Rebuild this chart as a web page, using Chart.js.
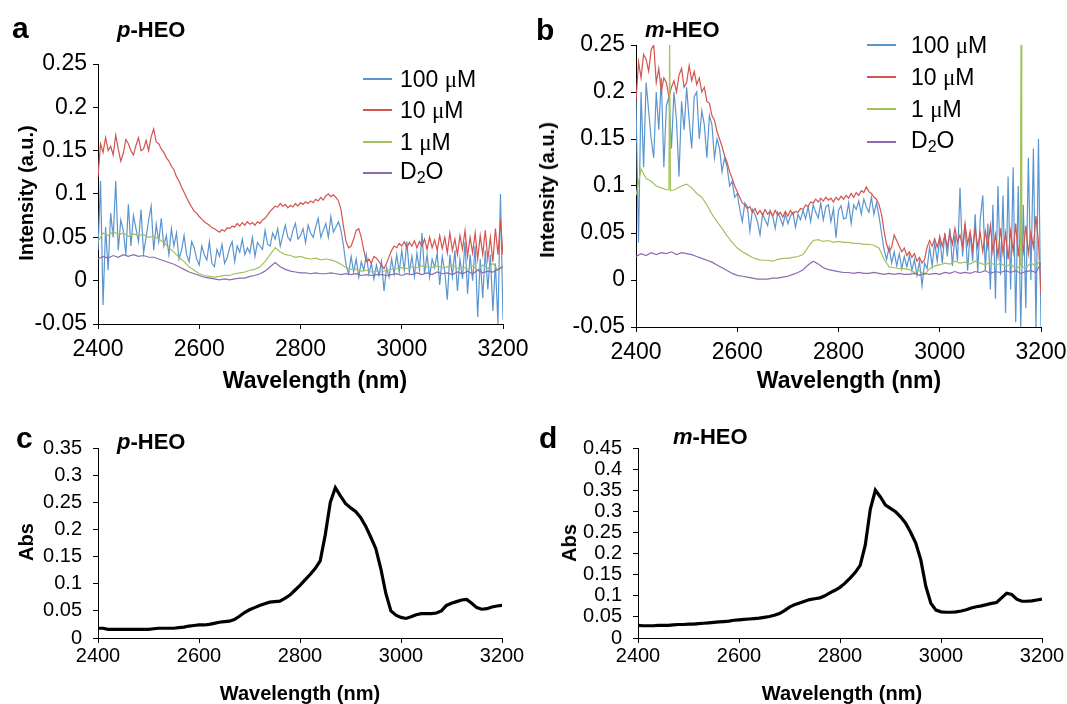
<!DOCTYPE html>
<html>
<head>
<meta charset="utf-8">
<title>HEO NIR spectra</title>
<script src="https://cdn.jsdelivr.net/npm/chart.js@4.4.1/dist/chart.umd.min.js"></script>
<style>
  body { margin: 0; width: 1067px; height: 704px; overflow: hidden; background: #fff;
         font-family: "Liberation Sans", Arial, Helvetica, sans-serif; color: #000; }
  canvas { position: absolute; left: 0; top: 0; }
  .t { position: absolute; line-height: 1; white-space: nowrap; }
  .letter { font-size: 30px; font-weight: bold; }
  .name { font-size: 22px; font-weight: bold; }
  .name i { font-style: italic; }
  .axt { transform: translate(-50%, -50%); font-weight: bold; }
  .axt.rot { transform: translate(-50%, -50%) rotate(-90deg); }
  .leg { font-size: 23px; transform: translateY(-50%); }
  .mu { font-family: "Liberation Serif", "Times New Roman", serif; }
  .sw { position: absolute; width: 29px; height: 2px; }
</style>
</head>
<body>
<canvas id="chartA" width="1120" height="704"></canvas>
<canvas id="chartB" width="1120" height="704"></canvas>
<canvas id="chartC" width="1120" height="704"></canvas>
<canvas id="chartD" width="1120" height="704"></canvas>

<!-- panel letters and sample names -->
<div class="t letter" style="left:12px; top:13px;">a</div>
<div class="t name" style="left:117px; top:19px;"><i>p</i>-HEO</div>
<div class="t letter" style="left:536px; top:15px;">b</div>
<div class="t name" style="left:645px; top:19px;"><i>m</i>-HEO</div>
<div class="t letter" style="left:16px; top:423px;">c</div>
<div class="t name" style="left:117px; top:431px;"><i>p</i>-HEO</div>
<div class="t letter" style="left:539px; top:423px;">d</div>
<div class="t name" style="left:673px; top:426px;"><i>m</i>-HEO</div>

<!-- axis titles -->
<div class="t axt" style="left:315px; top:380px; font-size:23px;">Wavelength (nm)</div>
<div class="t axt rot" style="left:26px; top:193px; font-size:20px;">Intensity (a.u.)</div>
<div class="t axt" style="left:849px; top:380px; font-size:23px;">Wavelength (nm)</div>
<div class="t axt rot" style="left:547px; top:190px; font-size:20px;">Intensity (a.u.)</div>
<div class="t axt" style="left:300px; top:693px; font-size:20px;">Wavelength (nm)</div>
<div class="t axt rot" style="left:26px; top:542px; font-size:20px;">Abs</div>
<div class="t axt" style="left:842px; top:693px; font-size:20px;">Wavelength (nm)</div>
<div class="t axt rot" style="left:569px; top:543px; font-size:20px;">Abs</div>

<div id="legends"></div>

<script>
// wavelength grid: every series starts at 2400 nm
const wlStart = 2400;
const stepFine = 5;    // noisy 100 uM / 10 uM traces
const stepCoarse = 10; // 1 uM, D2O and absorbance traces

const xTicks = [2400, 2600, 2800, 3000, 3200];
const yTicksAB = [-0.05, 0, 0.05, 0.1, 0.15, 0.2, 0.25];
const yTicksC = [0, 0.05, 0.1, 0.15, 0.2, 0.25, 0.3, 0.35];
const yTicksD = [0, 0.05, 0.1, 0.15, 0.2, 0.25, 0.3, 0.35, 0.4, 0.45];

const seriesNames = ["100 \u03bcM", "10 \u03bcM", "1 \u03bcM", "D2O"];
const seriesColors = ["#5b95d0", "#d25550", "#a3c25c", "#8d6bb0"];

// panel a (p-HEO), intensity, 5 nm steps
const aBlue = [
  0.035, 0.115, -0.028, 0.062, 0.012, 0.078, 0.05, 0.115, 0.035, 0.07,
  0.058, 0.03, 0.088, 0.04, 0.075, 0.06, 0.045, 0.082, 0.032, 0.05,
  0.07, 0.086, 0.035, 0.065, 0.045, 0.072, 0.04, 0.052, 0.03, 0.06,
  0.04, 0.055, 0.025, 0.035, 0.052, 0.03, 0.022, 0.045, 0.038, 0.025,
  0.018, 0.04, 0.03, 0.024, 0.045, 0.02, 0.016, 0.036, 0.028, 0.042,
  0.02, 0.026, 0.038, 0.045, 0.022, 0.04, 0.033, 0.048, 0.03, 0.038,
  0.032, 0.05, 0.028, 0.044, 0.04, 0.036, 0.058, 0.042, 0.04, 0.055,
  0.048, 0.06, 0.04, 0.052, 0.064, 0.05, 0.046, 0.058, 0.066, 0.048,
  0.052, 0.06, 0.044, 0.064, 0.055, 0.05, 0.062, 0.072, 0.05, 0.058,
  0.066, 0.05, 0.074, 0.056, 0.062, 0.068, 0.058, 0.04, 0.018, 0.008,
  0.028, 0.01, 0.025, 0.004, 0.022, 0.012, 0.03, 0.008, 0.02, 0.002,
  0.018, 0.006, 0.022, -0.012, 0.015, 0.004, 0.025, 0.008, 0.03, 0.01,
  0.035, 0.012, 0.045, 0.01, 0.028, 0.005, 0.032, 0.012, 0.055, 0.008,
  0.03, 0.004, 0.025, 0.015, 0.032, -0.005, 0.028, 0.01, -0.022, 0.03,
  0.005, 0.035, -0.012, 0.025, 0.002, 0.045, -0.015, 0.03, 0.0, 0.04,
  -0.042, 0.025, -0.02, 0.035, -0.01, 0.03, -0.035, 0.02, -0.05, 0.1,
  -0.045
];
const aRed = [
  0.12, 0.158, 0.148, 0.165, 0.15, 0.155, 0.145, 0.168, 0.152, 0.138,
  0.147, 0.163, 0.158, 0.15, 0.145, 0.156, 0.165, 0.15, 0.152, 0.162,
  0.15, 0.166, 0.175, 0.16, 0.158, 0.152, 0.148, 0.142, 0.138, 0.132,
  0.128, 0.12, 0.115, 0.108, 0.102, 0.096, 0.09, 0.085, 0.08, 0.078,
  0.074, 0.071, 0.068, 0.066, 0.064, 0.061, 0.06, 0.058, 0.056, 0.059,
  0.057, 0.061, 0.06, 0.063, 0.062, 0.066, 0.063, 0.067, 0.064, 0.068,
  0.065, 0.067, 0.064, 0.068, 0.066, 0.07, 0.072, 0.076, 0.08, 0.083,
  0.086, 0.085, 0.089, 0.086, 0.088, 0.084, 0.087, 0.085, 0.089, 0.086,
  0.09, 0.088, 0.091, 0.089, 0.092, 0.09, 0.094, 0.092, 0.096, 0.093,
  0.098, 0.1, 0.097, 0.099, 0.096, 0.092, 0.082, 0.062, 0.045, 0.038,
  0.04, 0.048, 0.058, 0.06, 0.05, 0.035, 0.022, 0.025, 0.02, 0.028,
  0.026, 0.022, 0.018, 0.014, 0.02, 0.028, 0.035, 0.04, 0.038, 0.043,
  0.04, 0.045, 0.038, 0.044, 0.04, 0.046, 0.038, 0.045, 0.04, 0.048,
  0.036, 0.05, 0.038, 0.047, 0.035, 0.052, 0.037, 0.05, 0.032, 0.055,
  0.035, 0.048, 0.03, 0.052, 0.036, 0.058, 0.028, 0.05, 0.032, 0.055,
  0.025, 0.052, 0.03, 0.058, 0.025, 0.05, 0.022, 0.06, 0.03, 0.07,
  0.03
];
// 10 nm steps
const aGreen = [
  0.045, 0.055, 0.052, 0.057, 0.053, 0.055, 0.051, 0.054, 0.052, 0.053,
  0.05, 0.051, 0.048, 0.044, 0.038, 0.033, 0.027, 0.022, 0.016, 0.012,
  0.008, 0.006, 0.005, 0.004, 0.005, 0.006, 0.006, 0.008, 0.009, 0.01,
  0.012, 0.013, 0.016, 0.022, 0.03, 0.038, 0.033, 0.03, 0.029, 0.027,
  0.028, 0.026, 0.025, 0.026, 0.024, 0.025, 0.024, 0.022, 0.019, 0.015,
  0.013, 0.013, 0.011, 0.012, 0.01, 0.011, 0.01, 0.012, 0.013, 0.014,
  0.015, 0.014, 0.016, 0.015, 0.017, 0.016, 0.015, 0.017, 0.015, 0.016,
  0.018, 0.014, 0.016, 0.013, 0.017, 0.012, 0.018, 0.014, 0.02, 0.012,
  0.018
];
const aPurple = [
  0.025, 0.028, 0.026, 0.029, 0.027, 0.03, 0.028, 0.03, 0.028, 0.029,
  0.027, 0.027, 0.025, 0.023, 0.021, 0.019, 0.016, 0.013, 0.01, 0.008,
  0.006, 0.004, 0.003, 0.002, 0.001, 0.002, 0.001, 0.002, 0.003, 0.003,
  0.005, 0.006, 0.008, 0.011, 0.016, 0.021, 0.016, 0.013, 0.011, 0.01,
  0.009, 0.009, 0.008, 0.009, 0.008, 0.008, 0.009, 0.008, 0.007, 0.008,
  0.007, 0.008, 0.006, 0.007, 0.006, 0.007, 0.007, 0.006, 0.007, 0.008,
  0.006, 0.008, 0.007, 0.009, 0.007, 0.009, 0.007, 0.01, 0.008, 0.009,
  0.007, 0.01, 0.008, 0.011, 0.008, 0.012, 0.009, 0.011, 0.01, 0.013,
  0.016
];

// panel b (m-HEO), intensity, 5 nm steps
const bBlue = [
  0.19, 0.04, 0.2, 0.12, 0.21, 0.18, 0.15, 0.13, 0.2, 0.16,
  0.215, 0.12, 0.185, 0.195, 0.14, 0.2, 0.17, 0.11, 0.19, 0.16,
  0.205, 0.17, 0.14, 0.195, 0.2, 0.15, 0.18, 0.165, 0.13, 0.175,
  0.165, 0.13, 0.15, 0.14, 0.115, 0.13, 0.12, 0.1, 0.105, 0.088,
  0.092, 0.075, 0.062, 0.082, 0.078, 0.052, 0.075, 0.07, 0.062, 0.048,
  0.07, 0.064, 0.058, 0.074, 0.068, 0.055, 0.072, 0.066, 0.058, 0.07,
  0.06, 0.068, 0.072, 0.056, 0.07, 0.064, 0.074, 0.065, 0.078, 0.062,
  0.08, 0.072, 0.066, 0.082, 0.064, 0.078, 0.08, 0.062, 0.076, 0.045,
  0.074, 0.079, 0.065, 0.066, 0.082, 0.06, 0.08, 0.075, 0.084, 0.07,
  0.086, 0.078, 0.072, 0.088, 0.07, 0.082, 0.068, 0.05, 0.032, 0.022,
  0.035, 0.018, 0.03, 0.015, 0.028, 0.012, 0.025, 0.014, 0.026, 0.01,
  0.022, 0.005, 0.02, -0.006, 0.018, 0.012, 0.035, 0.015, 0.04, 0.02,
  0.045, 0.018, 0.05, 0.025, 0.055, 0.015, 0.048, 0.02, 0.098, 0.025,
  0.06, 0.01, 0.05, 0.02, 0.07, 0.008, 0.065, 0.09, 0.01, 0.06,
  -0.01, 0.08, -0.02, 0.1, 0.005, 0.09, -0.035, 0.11, -0.01, 0.12,
  -0.045, 0.1, -0.05, 0.08, -0.03, 0.13, 0.0, 0.14, -0.05, 0.15,
  -0.05
];
const bRed = [
  0.19, 0.232, 0.215, 0.24, 0.235, 0.222, 0.245, 0.25, 0.21, 0.225,
  0.2, 0.215, 0.21, 0.195, 0.205, 0.212, 0.2, 0.218, 0.225, 0.205,
  0.21, 0.228, 0.212, 0.222, 0.208, 0.215, 0.2, 0.205, 0.19, 0.188,
  0.175, 0.17, 0.158, 0.15, 0.142, 0.132, 0.125, 0.115, 0.108, 0.1,
  0.094, 0.088, 0.082, 0.08, 0.076, 0.078, 0.072, 0.076, 0.07, 0.074,
  0.069, 0.075, 0.07, 0.073, 0.068, 0.074, 0.069, 0.072, 0.067, 0.073,
  0.068, 0.074, 0.07, 0.073, 0.072, 0.076, 0.075, 0.08, 0.078, 0.083,
  0.082, 0.086, 0.083, 0.087, 0.084, 0.088, 0.085, 0.087, 0.083, 0.088,
  0.085, 0.089, 0.086, 0.09, 0.087, 0.092, 0.088, 0.093, 0.09, 0.095,
  0.093, 0.099, 0.094, 0.092, 0.088, 0.086, 0.08, 0.07, 0.052, 0.038,
  0.03, 0.035, 0.048, 0.042, 0.036, 0.03, 0.034, 0.026, 0.03, 0.024,
  0.028, 0.02, 0.024, 0.018, 0.022, 0.035, 0.042, 0.036, 0.044, 0.035,
  0.046, 0.036, 0.048, 0.035, 0.05, 0.038, 0.055, 0.04, 0.048, 0.035,
  0.06, 0.038, 0.052, 0.032, 0.055, 0.035, 0.05, 0.03, 0.052, 0.035,
  0.058, 0.03, 0.048, 0.025, 0.055, 0.028, 0.05, 0.022, 0.052, 0.03,
  0.06, 0.025, 0.05, 0.03, 0.058, 0.028, 0.05, 0.035, 0.068, 0.04,
  -0.015
];
// 10 nm steps
const bGreen = [
  0.09, 0.118, 0.108, 0.105, 0.1, 0.098, 0.096, 0.095, 0.097, 0.1,
  0.102, 0.098, 0.092, 0.088, 0.08, 0.07, 0.062, 0.055, 0.047, 0.04,
  0.034, 0.03, 0.027, 0.024, 0.022, 0.021, 0.021, 0.02, 0.022, 0.023,
  0.023, 0.024, 0.025, 0.027, 0.035, 0.042, 0.043, 0.041, 0.042, 0.04,
  0.041, 0.04, 0.04, 0.039, 0.039, 0.038, 0.038, 0.037, 0.034, 0.022,
  0.014, 0.013, 0.012, 0.012, 0.011, 0.008, 0.01, 0.006, 0.012, 0.015,
  0.016, 0.018, 0.017, 0.02, 0.018, 0.019, 0.017, 0.02, 0.018, 0.016,
  0.019, 0.015, 0.018, 0.014, 0.017, 0.012, 0.015, 0.013, 0.018, 0.015,
  0.022
];
// two narrow spikes in the 1 uM trace (nm, value)
const bGreenSpikeNm = [2465, 2466.5, 2468, 3159, 3160.5, 3162];
const bGreenSpikeVal = [0.096, 0.26, 0.095, 0.015, 0.26, 0.014];
const bPurple = [
  0.025, 0.028, 0.026, 0.029, 0.027, 0.029, 0.028, 0.03, 0.027, 0.029,
  0.028, 0.027, 0.025, 0.023, 0.021, 0.019, 0.016, 0.013, 0.01, 0.007,
  0.005, 0.004, 0.003, 0.002, 0.001, 0.001, 0.001, 0.002, 0.002, 0.003,
  0.004, 0.006, 0.008, 0.011, 0.016, 0.02, 0.017, 0.013, 0.011, 0.01,
  0.009, 0.008, 0.008, 0.007, 0.008, 0.007, 0.007, 0.008, 0.007, 0.006,
  0.007, 0.006, 0.007, 0.006, 0.006, 0.007, 0.005, 0.007, 0.006, 0.007,
  0.006, 0.008, 0.007, 0.009, 0.007, 0.008, 0.007, 0.009, 0.008, 0.01,
  0.007, 0.009, 0.008, 0.01, 0.008, 0.01, 0.007, 0.009, 0.01, 0.008,
  0.018
];

// panels c and d, absorbance, 10 nm steps
const cAbs = [
  0.018, 0.018, 0.016, 0.016, 0.016, 0.016, 0.016, 0.016, 0.016, 0.016,
  0.016, 0.017, 0.018, 0.018, 0.018, 0.018, 0.019, 0.02, 0.022, 0.023,
  0.024, 0.024, 0.025, 0.027, 0.029, 0.03, 0.031, 0.034, 0.04, 0.047,
  0.052, 0.056, 0.06, 0.063, 0.066, 0.067, 0.068, 0.073, 0.079, 0.088,
  0.097, 0.107, 0.117, 0.128, 0.142, 0.19, 0.25, 0.277, 0.262, 0.248,
  0.24, 0.233, 0.222, 0.206, 0.186, 0.165, 0.128, 0.082, 0.05, 0.042,
  0.038, 0.036, 0.039, 0.043, 0.045, 0.045, 0.045, 0.046, 0.05, 0.06,
  0.064, 0.067, 0.07, 0.071, 0.064, 0.056, 0.053, 0.054, 0.057, 0.059,
  0.06
];
const dAbs = [
  0.03, 0.029, 0.029, 0.029, 0.03, 0.03, 0.03, 0.031, 0.032, 0.032,
  0.033, 0.033, 0.034, 0.035, 0.036, 0.037, 0.038, 0.039, 0.04, 0.042,
  0.043, 0.044, 0.045, 0.046, 0.047, 0.049, 0.051, 0.054, 0.058, 0.065,
  0.073, 0.079, 0.083, 0.087, 0.091, 0.093, 0.095, 0.1, 0.107, 0.113,
  0.12, 0.13, 0.142, 0.155, 0.172, 0.22, 0.305, 0.35, 0.334, 0.315,
  0.307, 0.299, 0.287, 0.272, 0.25, 0.225, 0.185, 0.122, 0.082, 0.066,
  0.062, 0.061, 0.061, 0.062, 0.064, 0.067, 0.071, 0.074, 0.076, 0.079,
  0.082, 0.084, 0.095, 0.106, 0.103, 0.092, 0.087, 0.087, 0.088, 0.09,
  0.092
];

const CANVAS_W = 1120, CANVAS_H = 704;
const Y_W = 80, X_H = 50; // fixed axis box sizes

const toPoints = (vals, step) => vals.map((v, i) => ({ x: wlStart + i * step, y: v }));

const bGreenPts = toPoints(bGreen, stepCoarse)
  .concat(bGreenSpikeNm.map((nm, i) => ({ x: nm, y: bGreenSpikeVal[i] })))
  .sort((p, q) => p.x - q.x);

function spectra(blue, red, green, purple) {
  const sets = [blue, red, green, purple];
  return sets.map((data, i) => ({
    label: seriesNames[i],
    data,
    borderColor: seriesColors[i],
    borderWidth: 1.2,
    order: 4 - i, // D2O drawn on top, 100 uM at the back
  }));
}

function makeChart(id, area, yTicks, look, datasets) {
  const font = { family: '"Liberation Sans", Arial, Helvetica, sans-serif', size: look.fontSize };
  const axisGrid = { display: true, drawOnChartArea: false, drawTicks: true, tickLength: 5, color: "#000", tickColor: "#000", lineWidth: 1 };
  return new Chart(document.getElementById(id), {
    type: "line",
    data: { datasets },
    options: {
      responsive: false,
      animation: false,
      devicePixelRatio: 1,
      events: [],
      layout: {
        padding: {
          left: area.left - Y_W,
          top: area.top,
          right: CANVAS_W - area.right,
          bottom: CANVAS_H - area.bottom - X_H,
        },
      },
      elements: { point: { radius: 0 }, line: { tension: 0, fill: false } },
      plugins: { legend: { display: false }, tooltip: { enabled: false } },
      scales: {
        x: {
          type: "linear",
          min: 2400,
          max: 3200,
          afterBuildTicks: s => { s.ticks = xTicks.map(v => ({ value: v })); },
          afterFit: s => { s.height = X_H; },
          ticks: { font, color: "#000", padding: look.xPad, maxRotation: 0, autoSkip: false, callback: v => String(v) },
          grid: axisGrid,
          border: { display: true, color: "#000", width: 1 },
        },
        y: {
          type: "linear",
          min: yTicks[0],
          max: yTicks[yTicks.length - 1],
          afterBuildTicks: s => { s.ticks = yTicks.map(v => ({ value: v })); },
          afterFit: s => { s.width = Y_W; },
          ticks: { font, color: "#000", padding: look.yPad, autoSkip: false, callback: v => String(v) },
          grid: axisGrid,
          border: { display: true, color: "#000", width: 1 },
        },
      },
    },
  });
}

const lookAB = { fontSize: 23, xPad: 7, yPad: 6 };
const lookCD = { fontSize: 20, xPad: 1, yPad: 11 };

makeChart("chartA", { left: 98, right: 503, top: 64, bottom: 324 }, yTicksAB, lookAB,
  spectra(toPoints(aBlue, stepFine), toPoints(aRed, stepFine), toPoints(aGreen, stepCoarse), toPoints(aPurple, stepCoarse)));

makeChart("chartB", { left: 636, right: 1041, top: 45, bottom: 327 }, yTicksAB, lookAB,
  spectra(toPoints(bBlue, stepFine), toPoints(bRed, stepFine), bGreenPts, toPoints(bPurple, stepCoarse)));

const absLine = data => [{ label: "Abs", data, borderColor: "#000", borderWidth: 3.2 }];

makeChart("chartC", { left: 98, right: 502, top: 448, bottom: 638 }, yTicksC, lookCD,
  absLine(toPoints(cAbs, stepCoarse)));

makeChart("chartD", { left: 638, right: 1042, top: 448, bottom: 638 }, yTicksD, lookCD,
  absLine(toPoints(dAbs, stepCoarse)));

// legends for panels a and b (HTML, line swatch + label)
const legendBoxes = [
  { lineX: 363, textX: 400, rows: [79, 110, 142, 173] },
  { lineX: 867, textX: 911, rows: [45, 77, 109, 142] },
];
const legendHost = document.getElementById("legends");
legendBoxes.forEach(box => {
  box.rows.forEach((y, i) => {
    const sw = document.createElement("div");
    sw.className = "sw";
    sw.style.left = box.lineX + "px";
    sw.style.top = (y - 1) + "px";
    sw.style.background = seriesColors[i];
    legendHost.appendChild(sw);

    const txt = document.createElement("div");
    txt.className = "t leg";
    txt.style.left = box.textX + "px";
    txt.style.top = y + "px";
    const name = seriesNames[i];
    if (name === "D2O") {
      txt.innerHTML = 'D<sub style="font-size:16px; vertical-align:-4px;">2</sub>O';
    } else {
      const parts = name.split("\u03bc");
      txt.innerHTML = parts[0] + '<span class="mu">\u03bc</span>' + parts[1];
    }
    legendHost.appendChild(txt);
  });
});
</script>
</body>
</html>
